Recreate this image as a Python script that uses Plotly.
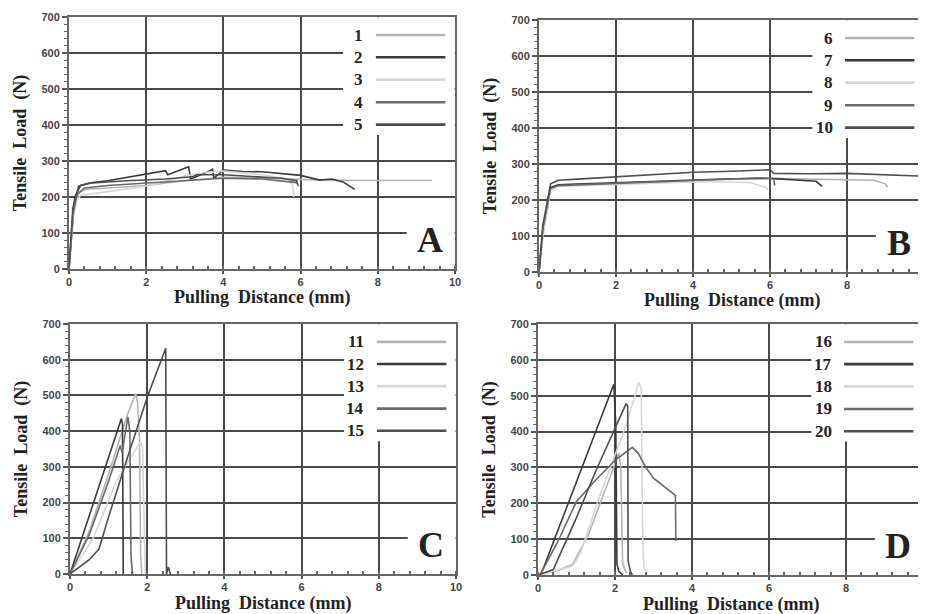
import plotly.graph_objects as go

# ---------------- data ----------------
series_names = ["1", "2", "3", "4", "5", "6", "7", "8", "9", "10",
                "11", "12", "13", "14", "15", "16", "17", "18", "19", "20"]
panel_letters = ["A", "B", "C", "D"]
x_ticks = [0, 2, 4, 6, 8, 10]
y_ticks = [0, 100, 200, 300, 400, 500, 600, 700]
x_title = "Pulling\u00a0\u00a0Distance\u00a0(mm)"
y_title = "Tensile\u00a0\u00a0Load\u00a0\u00a0(N)"

# Panel A
s1_x = [0, 0.1, 0.25, 0.5, 1.0, 2.0, 3.0, 4.0, 5.0, 5.8, 6.5, 7.5, 8.5, 9.4]
s1_y = [0, 160, 215, 222, 225, 232, 245, 255, 253, 250, 247, 246, 246, 246]
s2_x = [0, 0.08, 0.15, 0.3, 0.6, 1.0, 1.5, 2.0, 2.5, 2.56, 3.1, 3.15, 3.5, 3.72, 3.75, 4.0, 4.5, 5.0, 5.5, 6.0, 6.5, 6.8, 7.1, 7.4]
s2_y = [0, 120, 200, 232, 240, 245, 255, 265, 273, 262, 284, 250, 265, 277, 252, 275, 271, 270, 266, 260, 247, 250, 242, 221]
s3_x = [0, 0.1, 0.2, 0.3, 1.0, 2.0, 3.0, 3.5, 4.0, 5.0, 5.7, 5.8, 5.82]
s3_y = [0, 140, 190, 205, 215, 230, 258, 268, 272, 262, 250, 230, 200]
s4_x = [0, 0.1, 0.2, 0.4, 1.0, 2.0, 3.0, 4.0, 5.0, 5.5, 5.9, 5.95]
s4_y = [0, 150, 205, 225, 232, 238, 246, 252, 250, 245, 240, 230]
s5_x = [0, 0.1, 0.25, 0.5, 1.5, 2.5, 3.2, 3.3, 4.0, 4.5, 5.0, 5.5, 5.9, 5.92]
s5_y = [0, 170, 230, 238, 245, 250, 256, 262, 262, 258, 255, 252, 245, 235]

# Panel B
s6_x = [0, 0.1, 0.3, 0.5, 1, 2, 3, 4, 5, 6, 7, 8, 8.7, 9.0, 9.05]
s6_y = [0, 100, 230, 242, 243, 245, 250, 255, 258, 260, 258, 257, 255, 245, 235]
s7_x = [0, 0.1, 0.3, 0.5, 1, 2, 3, 4, 5, 6, 6.5, 7, 7.2, 7.35]
s7_y = [0, 110, 235, 242, 244, 248, 253, 256, 259, 260, 257, 255, 252, 238]
s8_x = [0, 0.1, 0.3, 0.5, 1, 2, 3, 4, 5, 5.5, 5.9, 5.95]
s8_y = [0, 100, 228, 238, 240, 243, 246, 250, 250, 248, 235, 228]
s9_x = [0, 0.1, 0.3, 0.5, 1, 2, 3, 4, 5, 5.8, 6.1, 6.12]
s9_y = [0, 120, 232, 240, 242, 246, 252, 256, 260, 262, 258, 240]
s10_x = [0, 0.1, 0.3, 0.5, 1, 2, 3, 4, 5, 6, 6.1, 7, 8, 9, 10]
s10_y = [0, 130, 245, 255, 258, 265, 272, 277, 280, 284, 274, 273, 274, 271, 266]

# Panel C
s11_x = [0, 0.5, 1.0, 1.5, 1.7, 1.75, 1.8, 1.83, 1.86]
s11_y = [0, 120, 280, 450, 505, 480, 380, 50, 0]
s12_x = [0, 1.33, 1.36, 1.38]
s12_y = [0, 435, 420, 0]
s13_x = [0, 0.6, 1.2, 1.6, 1.82, 1.88, 1.92, 1.95]
s13_y = [0, 100, 260, 330, 370, 355, 120, 0]
s14_x = [0, 0.5, 1.0, 1.3, 1.35, 1.5, 1.55, 1.58, 1.62]
s14_y = [0, 110, 260, 360, 340, 440, 400, 50, 0]
s15_x = [0, 0.3, 0.5, 0.75, 1.0, 1.5, 2.0, 2.48, 2.5, 2.55, 2.6]
s15_y = [0, 25, 40, 70, 160, 330, 495, 632, 0, 20, 0]

# Panel D
s16_x = [0, 0.5, 0.9, 1.3, 2.0, 2.1, 2.15, 2.2, 2.3]
s16_y = [0, 12, 30, 110, 310, 340, 300, 30, 5]
s17_x = [0.09, 1.97, 2.02, 2.05, 2.1, 2.2]
s17_y = [5, 532, 420, 30, 10, 0]
s18_x = [0, 0.9, 1.1, 1.6, 2.3, 2.62, 2.68, 2.72, 2.75, 2.85]
s18_y = [0, 25, 60, 220, 420, 538, 520, 100, 20, 10]
s19_x = [0.05, 0.5, 1.0, 1.5, 2.0, 2.45, 2.6, 2.8, 3.0, 3.5, 3.57, 3.58]
s19_y = [0, 90, 205, 265, 320, 356, 340, 300, 270, 228, 222, 95]
s20_x = [0, 0.4, 0.5, 1.0, 1.5, 2.0, 2.29, 2.33, 2.34, 2.4, 2.45]
s20_y = [0, 15, 40, 160, 290, 410, 478, 470, 40, 10, 0]

series_x = [s1_x, s2_x, s3_x, s4_x, s5_x, s6_x, s7_x, s8_x, s9_x, s10_x,
            s11_x, s12_x, s13_x, s14_x, s15_x, s16_x, s17_x, s18_x, s19_x, s20_x]
series_y = [s1_y, s2_y, s3_y, s4_y, s5_y, s6_y, s7_y, s8_y, s9_y, s10_y,
            s11_y, s12_y, s13_y, s14_y, s15_y, s16_y, s17_y, s18_y, s19_y, s20_y]

# ---------------- style ----------------
shade_cycle = ["#b4b4b4", "#3a3a3a", "#d6d6d6", "#6a6a6a", "#4e4e4e"]
PAGE_OFFSET = 8            # default body margin of the html page
W, H = 926 - PAGE_OFFSET, 614 - PAGE_OFFSET
# plot-area pixel boxes in window coordinates (left, right, top, bottom)
boxes = [(69, 455, 17, 269), (539, 924, 20, 272), (70, 456, 324, 574), (538, 923, 324, 575)]
legend_rows = [650, 588, 526, 463, 401]
grid_col = "#4a4a4a"
serif = "Liberation Serif"
sans = "Liberation Sans"

fig = go.Figure()
layout = dict(width=W, height=H, margin=dict(l=0, r=0, t=0, b=0, autoexpand=False),
              paper_bgcolor="white", plot_bgcolor="white", showlegend=False)
shapes = []
annotations = []

for p in range(4):
    sfx = "" if p == 0 else str(p + 1)
    xa, ya = "x" + sfx, "y" + sfx
    l, r, t, b = [v - PAGE_OFFSET for v in boxes[p]]
    layout["xaxis" + sfx] = dict(
        domain=[l / W, min(r / W, 1.0)], range=[0, 10], anchor=ya, automargin=False,
        tickvals=x_ticks, ticks="outside", ticklen=3, tickwidth=1.5, tickcolor="#555",
        ticklabelstandoff=-1,
        minor=dict(dtick=0.4, ticks="inside", ticklen=3, tickwidth=1.5, tickcolor="#666", showgrid=False),
        showgrid=True, gridcolor=grid_col, gridwidth=1.6, zeroline=False,
        showline=True, linecolor="#666", linewidth=2, mirror=True,
        tickfont=dict(family=sans, size=11, color="#444", weight="bold"),
    )
    layout["yaxis" + sfx] = dict(
        domain=[1 - b / H, 1 - t / H], range=[0, 700], anchor=xa, automargin=False,
        tickvals=y_ticks, ticks="outside", ticklen=5, tickwidth=1.5, tickcolor="#555",
        minor=dict(dtick=20, ticks="outside", ticklen=3, tickwidth=1, tickcolor="#666", showgrid=False),
        showgrid=True, gridcolor=grid_col, gridwidth=1.6, zeroline=False,
        showline=True, linecolor="#666", linewidth=2, mirror=True,
        tickfont=dict(family=sans, size=11, color="#444", weight="bold"),
        title=dict(text=y_title, standoff=10,
                   font=dict(family=serif, size=18, color="#222", weight="bold")),
    )
    # x-axis title as an annotation just under the tick labels
    annotations.append(dict(text=x_title, xref=xa + " domain", yref=ya + " domain", x=0.5, y=0,
                            xanchor="center", yanchor="middle", yshift=-29, showarrow=False,
                            borderpad=0,
                            font=dict(family=serif, size=18, color="#222", weight="bold")))
    # white areas that interrupt the grid (legend block and letter block)
    shapes.append(dict(type="rect", xref=xa, yref=ya, x0=7.1, x1=9.99, y0=372, y1=699,
                       fillcolor="white", line=dict(width=0), layer="between"))
    shapes.append(dict(type="rect", xref=xa, yref=ya, x0=8.75, x1=9.99, y0=20, y1=180,
                       fillcolor="white", line=dict(width=0), layer="between"))

    for k in range(5):
        i = p * 5 + k
        col = shade_cycle[k]
        fig.add_trace(go.Scatter(x=series_x[i], y=series_y[i], mode="lines",
                                 line=dict(color=col, width=1.6), xaxis=xa, yaxis=ya,
                                 name=series_names[i], hoverinfo="skip"))
        # custom legend entry: label left, line sample right
        annotations.append(dict(text=series_names[i], xref=xa, yref=ya, x=7.68, y=legend_rows[k],
                                xanchor="right", yanchor="middle", showarrow=False,
                                font=dict(family=serif, size=17, color="#222", weight="bold")))
        shapes.append(dict(type="line", xref=xa, yref=ya, x0=7.95, x1=9.75,
                           y0=legend_rows[k], y1=legend_rows[k],
                           line=dict(color=col, width=2.6), layer="above"))

    annotations.append(dict(text=panel_letters[p], xref=xa, yref=ya, x=9.35, y=80,
                            xanchor="center", yanchor="middle", showarrow=False,
                            font=dict(family=serif, size=36, color="#222", weight="bold")))

layout["shapes"] = shapes
layout["annotations"] = annotations
fig.update_layout(**layout)
fig.write_html("out.html")
